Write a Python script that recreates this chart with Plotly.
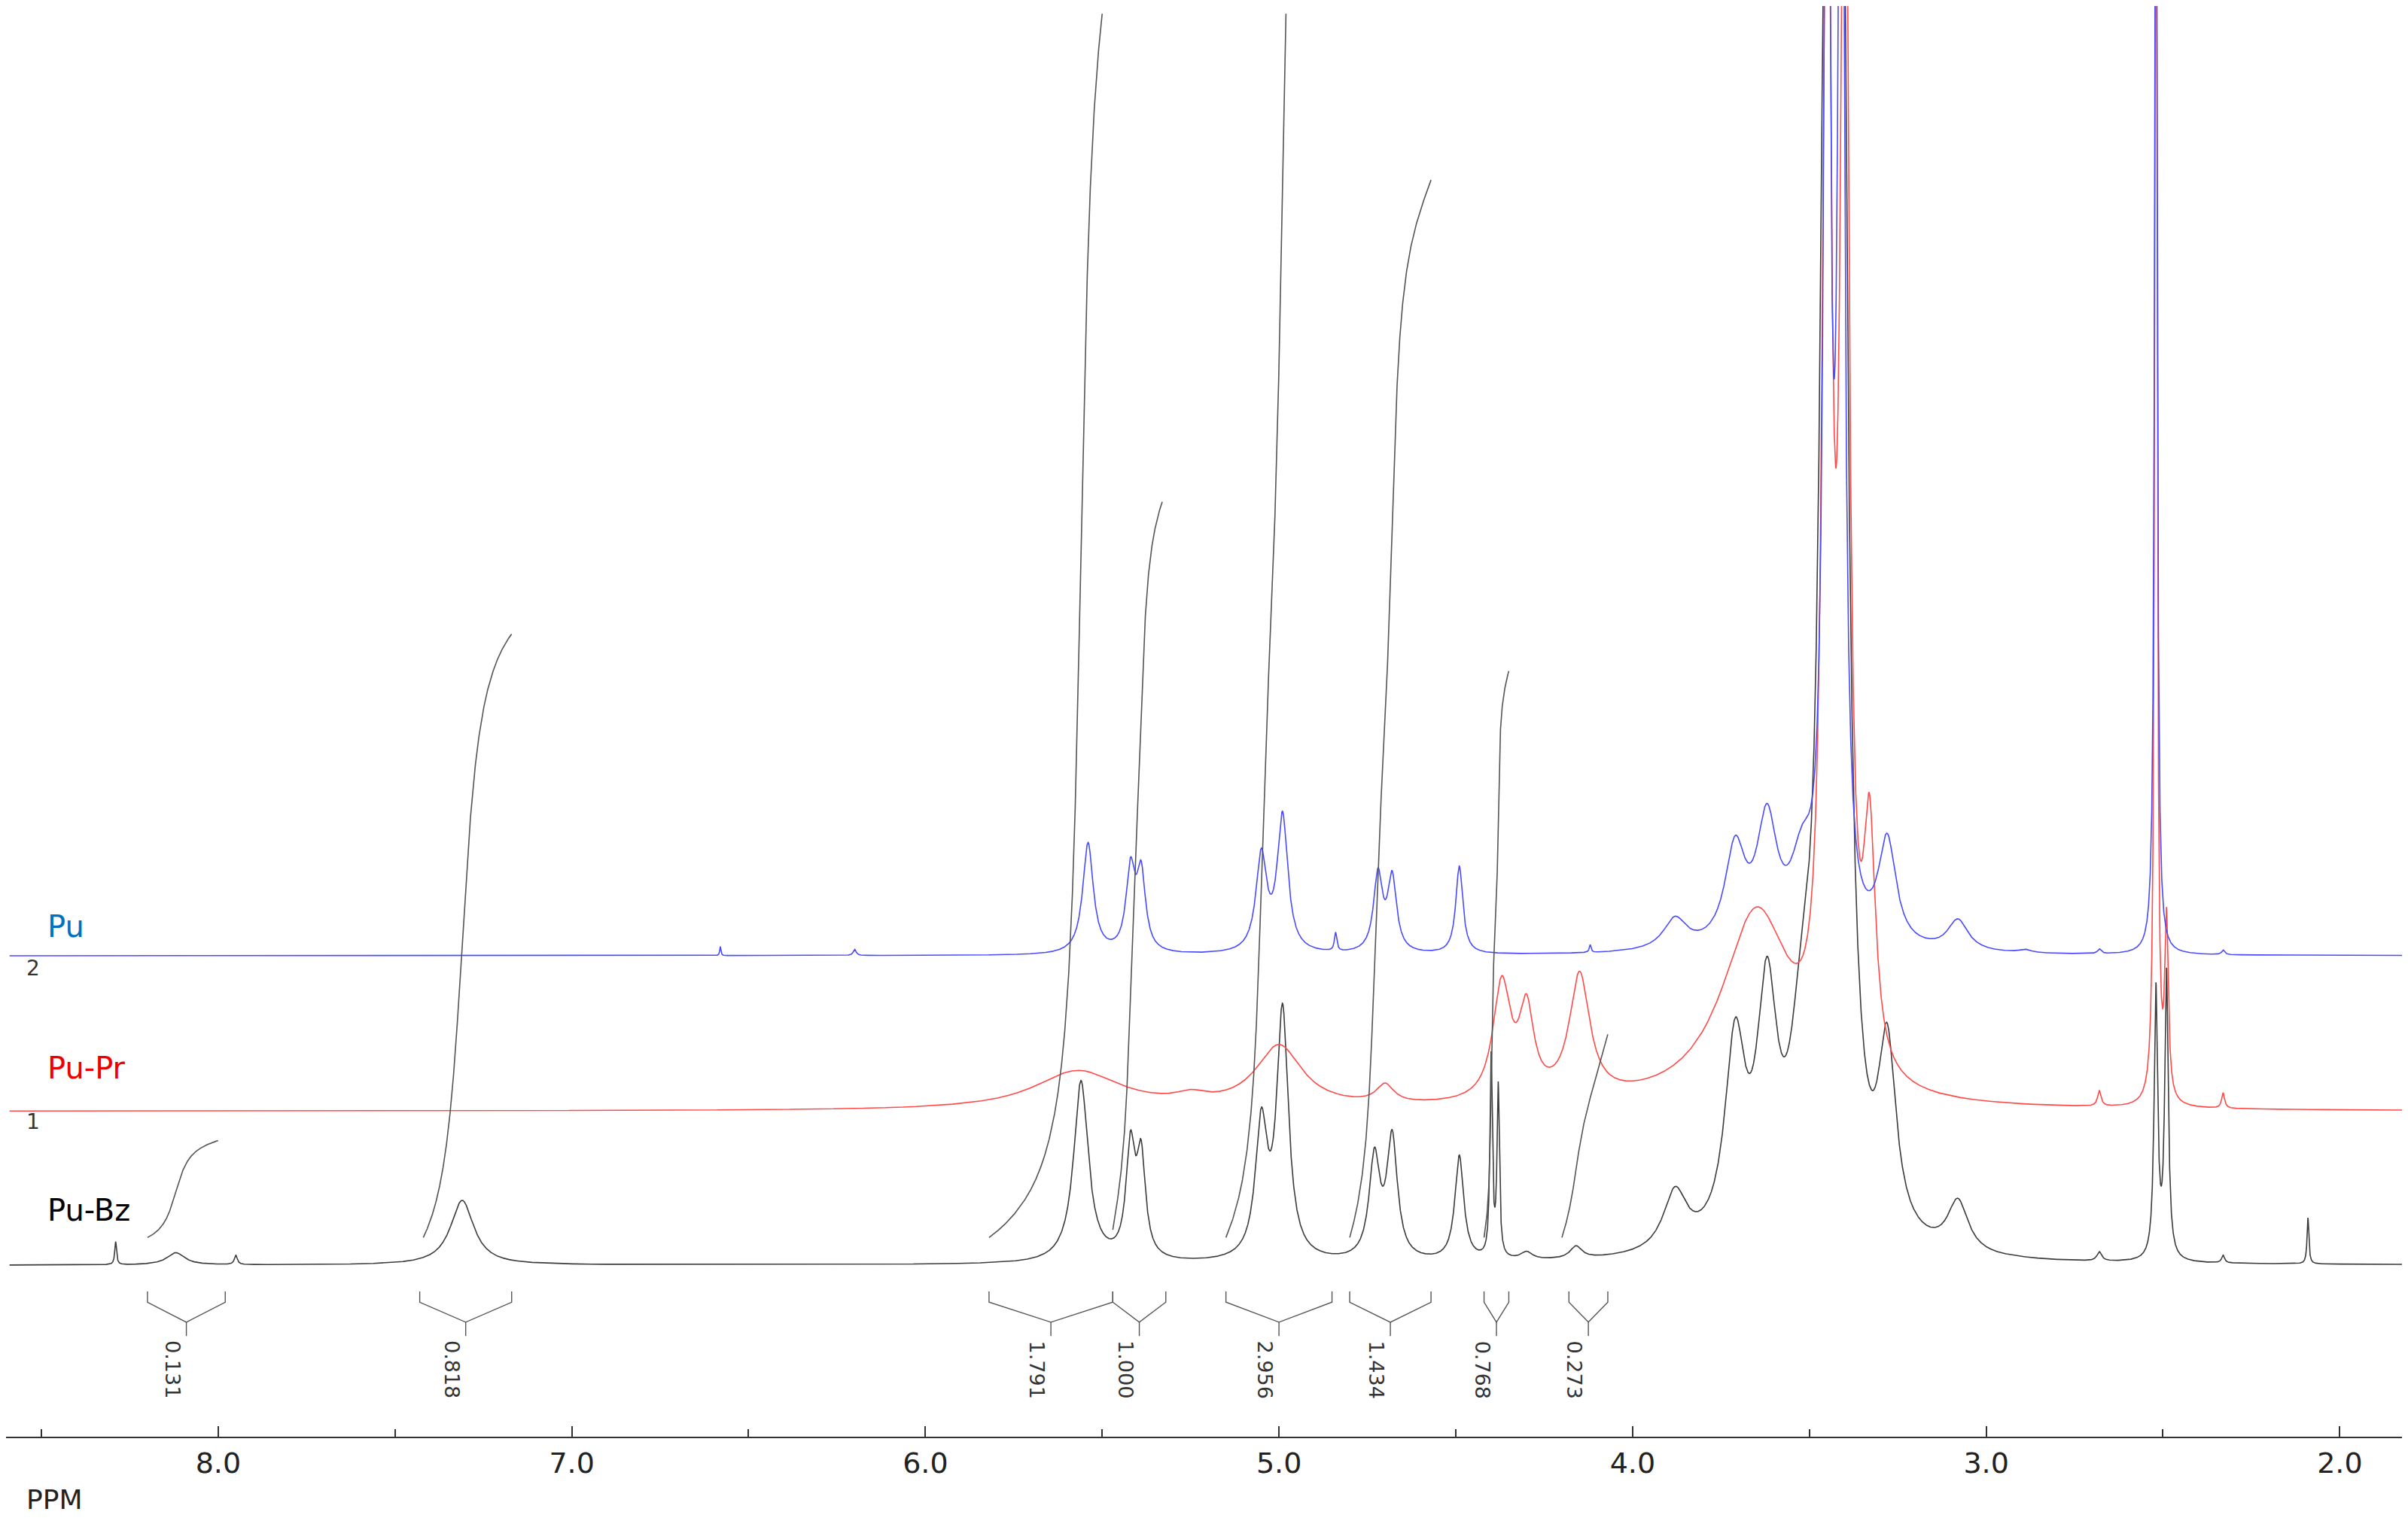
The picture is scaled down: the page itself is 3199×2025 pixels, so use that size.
import numpy as np
import plotly.graph_objects as go

# peak lists: (ppm, height above baseline [display px], half-width ppm)
bz_peaks = [(8.29,15,.003),(8.12,8,.03),(7.95,6,.005),(7.31,42,.04),(5.56,118,.025),
            (5.42,70,.015),(5.39,64,.015),(5.05,85,.02),(4.99,160,.02),(4.73,65,.018),(4.68,78,.018),
            (4.49,68,.015),(4.40,130,.004),(4.38,110,.004),(4.30,5,.02),(4.16,8,.02),
            (3.88,38,.04),(3.71,125,.035),(3.62,148,.035),(3.52,100,.04),(3.45,900,.02),
            (3.41,900,.02),(3.28,118,.03),(3.08,33,.035),(2.68,6,.008),(2.52,175,.006),
            (2.49,185,.006),(2.33,5,.005),(2.09,30,.003)]
pr_peaks = [(5.57,25,.15),(5.25,5,.05),(5.00,40,.08),(4.70,12,.03),(4.37,75,.03),(4.30,55,.025),
            (4.15,80,.035),(3.65,125,.12),(3.45,900,.013),(3.40,900,.013),(3.33,150,.02),
            (2.68,10,.006),(2.52,900,.004),(2.49,115,.006),(2.33,10,.005)]
pu_peaks = [(6.58,6,.002),(6.20,4,.005),(5.54,72,.018),(5.42,52,.015),(5.39,50,.015),(5.05,62,.018),
            (4.99,88,.018),(4.84,12,.004),(4.72,50,.015),(4.68,48,.015),(4.49,57,.012),(4.12,5,.003),
            (3.88,20,.04),(3.71,62,.035),(3.62,78,.035),(3.52,48,.04),(3.45,900,.01),(3.41,900,.01),
            (3.28,68,.03),(3.08,20,.035),(2.89,2,.02),(2.68,3,.006),(2.52,900,.004),(2.33,3,.005)]
baselines = {"Pu-Bz":818, "Pu-Pr":718, "Pu":617}

# integrals: (start ppm, end ppm, bottom y, top y, label, bracket start, bracket end)
integrals = [(8.20,8.00,800,737,"0.131",8.20,7.98),(7.42,7.17,800,408,"0.818",7.43,7.17),
             (5.82,5.50,800,5,"1.791",5.82,5.47),(5.47,5.33,795,322,"1.000",5.47,5.32),
             (5.15,4.98,800,5,"2.956",5.15,4.85),(4.80,4.57,800,113,"1.434",4.80,4.57),
             (4.42,4.35,800,432,"0.768",4.42,4.35),(4.20,4.07,800,668,"0.273",4.18,4.07)]

x = np.linspace(8.59,1.81,30000)
def spec(peaks):
    s = np.zeros_like(x)
    for p,h,w in peaks:
        s += h*w*w/((x-p)**2+w*w)
    return s

fig = go.Figure()
for name,peaks,col in [("Pu-Bz",bz_peaks,"#3c3c3c"),("Pu-Pr",pr_peaks,"#ff4a4a"),("Pu",pu_peaks,"#4a4aff")]:
    fig.add_trace(go.Scatter(x=x,y=baselines[name]-spec(peaks),mode="lines",
                             line=dict(color=col,width=1.6),showlegend=False,hoverinfo="skip"))

bz = spec(bz_peaks)
for a,b,y0,y1,lab,ba,bb in integrals:
    m = (x<=a)&(x>=b)
    xs = x[m]; cs = np.cumsum(bz[m]); cs = (cs-cs[0])/(cs[-1]-cs[0])
    fig.add_trace(go.Scatter(x=xs,y=y0-(y0-y1)*cs,mode="lines",line=dict(color="#555555",width=1.6),
                             showlegend=False,hoverinfo="skip"))
    c = (ba+bb)/2
    fig.add_trace(go.Scatter(x=[ba,ba,c,bb,bb,None,c,c],y=[835,842,855,842,835,None,855,864],mode="lines",
                             line=dict(color="#555555",width=1.4),showlegend=False,hoverinfo="skip"))
    fig.add_annotation(x=c+0.04,y=866,text=lab,textangle=90,showarrow=False,yanchor="top",
                       font=dict(family="DejaVu Sans",size=27,color="#333"))

W=1563
for t,y,col in [("Pu",598,"#0070c0"),("Pu-Pr",690,"#ee0000"),("Pu-Bz",782,"#000000")]:
    fig.add_annotation(x=26/W,xref="paper",y=y,text=t,showarrow=False,xanchor="left",
                       font=dict(family="DejaVu Sans",size=40,color=col))
for t,y in [("2",625),("1",725)]:
    fig.add_annotation(x=12/W,xref="paper",y=y,text=t,showarrow=False,xanchor="left",
                       font=dict(family="DejaVu Sans",size=28,color="#333"))
fig.add_annotation(x=12/W,xref="paper",y=970,text="PPM",showarrow=False,xanchor="left",
                   font=dict(family="DejaVu Sans",size=36,color="#222"))

fig.update_layout(width=3199,height=2025,margin=dict(l=0,r=0,t=0,b=0),
                  plot_bgcolor="white",paper_bgcolor="white",
                  xaxis=dict(range=[8.6,1.79],domain=[0,1],anchor="free",position=1-930/990,
                             showline=True,linecolor="#333",linewidth=2,showgrid=False,zeroline=False,
                             ticks="inside",ticklen=14,tickwidth=2,tickcolor="#333",
                             tickvals=[8,7,6,5,4,3,2],ticktext=["8.0","7.0","6.0","5.0","4.0","3.0","2.0"],
                             minor=dict(tickvals=[8.5,7.5,6.5,5.5,4.5,3.5,2.5],ticks="inside",ticklen=10,tickcolor="#333"),
                             tickfont=dict(family="DejaVu Sans",size=38,color="#222")),
                  yaxis=dict(range=[990,0],visible=False))
fig.write_html("out.html")
